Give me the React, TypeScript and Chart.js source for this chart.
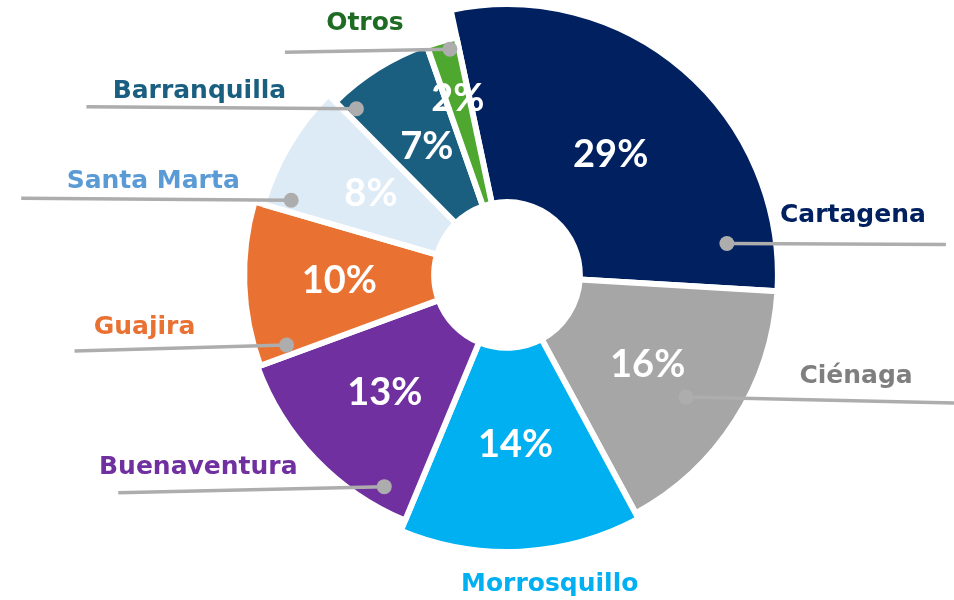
import React, { useEffect, useRef } from 'react';
import { Chart, registerables } from 'chart.js';

Chart.register(...registerables);

// ---- data ----
const categories = ['Cartagena', 'Ciénaga', 'Morrosquillo', 'Buenaventura', 'Guajira', 'Santa Marta', 'Barranquilla', 'Otros'];
const shares = [29, 16, 14, 13, 10, 8, 7, 2];

// ---- styles ----
const sliceColors = ['#002060', '#A6A6A6', '#00B0F0', '#7030A0', '#E97132', '#DDEBF7', '#1A5E80', '#4EA72E'];
const labelColors = ['#002060', '#7F7F7F', '#00B0F0', '#7030A0', '#E97132', '#5B9BD5', '#1A5E80', '#1E6B24'];
const radiusScale = [0.978, 0.978, 1, 0.96, 0.949, 0.916, 0.88, 0.876];
const pctRadiusShift = [-8, 0, 0, 5, 5, 0, -2, 30];
const leaderSide = [1, 1, 0, -1, -1, -1, -1, -1];
const leaderFrac = [0.89, 0.53, 0.5, 0.16, 0.07, 0.1, 0.1, 0.7];
const leaderRFrac = [0.82, 0.8, 0, 0.92, 0.88, 0.9, 0.92, 0.96];
const leaderLen = [219, 268, 0, 266, 212, 270, 270, 165];
const leaderDy = [1, 6, 0, 6, 6, -2, -2, 3];
const labelDx = [-93, -98, 27, 80, 70, 132, 113, 80];
const labelDy = [-5, 0, 0, 2, 3, 6, 8, -3];

const shapePlugin = {
  id: 'shapeAndLabels',
  beforeDatasetsDraw(chart: any) {
    const meta = chart.getDatasetMeta(0);
    const base = meta.controller.outerRadius;
    meta.data.forEach((arc: any, i: number) => {
      arc.outerRadius = base * radiusScale[i];
    });
  },
  afterDatasetsDraw(chart: any) {
    const ctx = chart.ctx;
    const meta = chart.getDatasetMeta(0);
    ctx.save();
    // leader lines
    meta.data.forEach((arc: any, i: number) => {
      if (leaderSide[i] === 0) return;
      const { x, y, startAngle, endAngle, outerRadius } = arc;
      const a = startAngle + leaderFrac[i] * (endAngle - startAngle);
      const rr = outerRadius * leaderRFrac[i];
      const px = x + Math.cos(a) * rr;
      const py = y + Math.sin(a) * rr;
      const fx = px + leaderSide[i] * leaderLen[i];
      const fy = py + leaderDy[i];
      ctx.strokeStyle = '#ADADAD';
      ctx.lineWidth = 3.5;
      ctx.lineCap = 'butt';
      ctx.beginPath();
      ctx.moveTo(px, py);
      ctx.lineTo(fx, fy);
      ctx.stroke();
      ctx.fillStyle = '#ADADAD';
      ctx.beginPath();
      ctx.arc(px, py, 7.5, 0, Math.PI * 2);
      ctx.fill();
      ctx.fillStyle = labelColors[i];
      ctx.font = 'bold 25px "DejaVu Sans"';
      ctx.textAlign = 'center';
      ctx.textBaseline = 'middle';
      ctx.fillText(categories[i], fx + labelDx[i], (py + fy) / 2 - 24 + labelDy[i]);
    });
    // percentage labels
    meta.data.forEach((arc: any, i: number) => {
      const { x, y, startAngle, endAngle, outerRadius, innerRadius } = arc;
      const mid = (startAngle + endAngle) / 2;
      const r = (innerRadius + outerRadius) / 2 - 5 + pctRadiusShift[i];
      ctx.fillStyle = '#FFFFFF';
      ctx.font = 'bold 38px Lato';
      ctx.textAlign = 'center';
      ctx.textBaseline = 'middle';
      ctx.fillText(`${shares[i]}%`, x + Math.cos(mid) * r, y + Math.sin(mid) * r);
      if (leaderSide[i] === 0) {
        const ro = outerRadius + 33;
        ctx.fillStyle = labelColors[i];
        ctx.font = 'bold 25px "DejaVu Sans"';
        ctx.fillText(categories[i], x + Math.cos(mid) * ro + labelDx[i], y + Math.sin(mid) * ro);
      }
    });
    ctx.restore();
  },
};

export default function App() {
  const ref = useRef<HTMLCanvasElement | null>(null);
  useEffect(() => {
    if (!ref.current) return;
    const chart = new Chart(ref.current, {
      type: 'doughnut',
      data: {
        labels: categories,
        datasets: [
          {
            data: shares,
            backgroundColor: sliceColors,
            borderColor: '#FFFFFF',
            borderWidth: 6,
            hoverOffset: 0,
          },
        ],
      },
      options: {
        responsive: false,
        animation: false,
        events: [],
        rotation: -12,
        radius: 277,
        cutout: '26.3%',
        layout: { padding: { left: 233, right: 173, top: 1, bottom: 51 } },
        plugins: { legend: { display: false }, tooltip: { enabled: false } },
      },
      plugins: [shapePlugin],
    } as any);
    return () => chart.destroy();
  }, []);
  return (
    <div style={{ position: 'fixed', left: 0, top: 0, width: 954, height: 600, background: '#FFFFFF' }}>
      <canvas ref={ref} width={954} height={600} style={{ width: 954, height: 600, display: 'block' }} />
    </div>
  );
}
